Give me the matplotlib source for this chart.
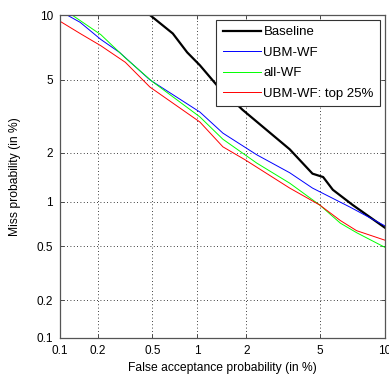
from statistics import NormalDist
import numpy as np
import matplotlib
matplotlib.use('Agg')
import matplotlib.pyplot as plt
from matplotlib.ticker import FixedLocator, FixedFormatter, NullLocator

# DET curves, values in percent (false acceptance, miss)
baseline_fa = [0.48, 0.69, 0.86, 1.04, 1.33, 1.9, 3.5, 4.6, 5.2, 5.8, 7.2, 10]
baseline_miss = [10, 8.3, 6.8, 5.9, 4.7, 3.5, 2.1, 1.5, 1.43, 1.19, 0.95, 0.67]

ubm_fa = [0.114, 0.145, 0.21, 0.29, 0.48, 1.04, 1.45, 2.3, 3.5, 4.6, 7.0, 10]
ubm_miss = [10, 9.3, 7.8, 6.8, 5.0, 3.4, 2.6, 1.95, 1.52, 1.22, 0.92, 0.69]

allwf_fa = [0.125, 0.21, 0.32, 0.50, 1.04, 1.45, 2.3, 3.5, 5.0, 6.3, 7.5, 10]
allwf_miss = [10, 8.2, 6.4, 4.9, 3.2, 2.4, 1.74, 1.31, 0.95, 0.72, 0.62, 0.49]

top25_fa = [0.1, 0.145, 0.21, 0.32, 0.48, 1.04, 1.45, 1.97, 3.5, 5.0, 6.3, 7.5, 10]
top25_miss = [9.4, 8.3, 7.3, 6.1, 4.6, 3.0, 2.17, 1.82, 1.22, 0.95, 0.75, 0.64, 0.55]

ticks = [0.1, 0.2, 0.5, 1, 2, 5, 10]
tick_labels = ['0.1', '0.2', '0.5', '1', '2', '5', '10']

# normal deviate (probit) axis, as in a DET plot
_nd = NormalDist()
_ppf = np.vectorize(lambda p: _nd.inv_cdf(min(max(p / 100.0, 1e-9), 1 - 1e-9)),
                    otypes=[float])
_cdf = np.vectorize(lambda z: _nd.cdf(z) * 100.0, otypes=[float])


def fwd(p):
    return _ppf(np.asarray(p, dtype=float))


def inv(z):
    return _cdf(np.asarray(z, dtype=float))


plt.rcParams['font.family'] = ['Liberation Sans', 'DejaVu Sans']

fig = plt.figure(figsize=(3.89, 3.76), dpi=100)
ax = fig.add_axes([0.1542, 0.1011, 0.8355, 0.859])
ax.set_xscale('function', functions=(fwd, inv))
ax.set_yscale('function', functions=(fwd, inv))

ax.plot(baseline_fa, baseline_miss, color='black', lw=1.6, label='Baseline')
ax.plot(ubm_fa, ubm_miss, color=(0, 0, 1), lw=0.7, label='UBM-WF')
ax.plot(allwf_fa, allwf_miss, color=(0, 1, 0), lw=0.7, label='all-WF')
ax.plot(top25_fa, top25_miss, color=(1, 0, 0), lw=0.7, label='UBM-WF: top 25%')

ax.set_xlim(0.1, 10)
ax.set_ylim(0.1, 10)
for axis in (ax.xaxis, ax.yaxis):
    axis.set_major_locator(FixedLocator(ticks))
    axis.set_major_formatter(FixedFormatter(tick_labels))
    axis.set_minor_locator(NullLocator())

ax.grid(True, color='black', linestyle=(0, (1, 3)), lw=0.6)
ax.tick_params(direction='in', top=True, right=True, length=3, width=0.6,
               labelsize=8.5, pad=5, color='#333333')
for s in ax.spines.values():
    s.set_color('#555555')
    s.set_linewidth(0.9)

ax.set_xlabel('False acceptance probability (in %)', fontsize=8.7, labelpad=4)
ax.set_ylabel('Miss probability (in %)', fontsize=8.7, labelpad=11)

leg = ax.legend(loc='upper right', fontsize=9.5, fancybox=False, framealpha=1,
                edgecolor='#333333', handlelength=2.9, borderaxespad=0.35,
                labelspacing=0.62, handletextpad=0.2, borderpad=0.5)
leg.get_frame().set_linewidth(0.8)

fig.savefig('out.png', dpi=100)
